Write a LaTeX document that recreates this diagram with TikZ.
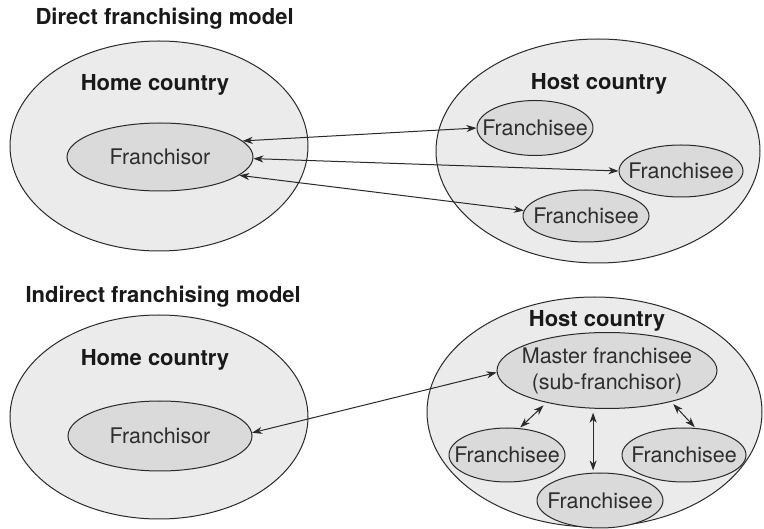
\documentclass[tikz,border=0pt]{standalone}
\usepackage{fontspec}
\setmainfont{TeX Gyre Heros}
\usetikzlibrary{shapes.geometric,arrows.meta}
\definecolor{outerfill}{HTML}{EBEBEB}
\definecolor{innerfill}{HTML}{DADADA}
\definecolor{linecol}{HTML}{2A2A2A}
\definecolor{textcol}{HTML}{2E2E2E}
\begin{document}
\begin{tikzpicture}[x=1pt,y=-1pt,
  country/.style={ellipse,draw=linecol,fill=outerfill,line width=1pt,inner sep=0pt},
  party/.style={ellipse,draw=linecol,fill=innerfill,line width=1pt,
    inner xsep=-25pt,inner ysep=0pt,text=textcol,
    font=\fontsize{21.5}{26}\selectfont,align=center},
  heading/.style={anchor=base west,font=\fontsize{22}{26}\selectfont\bfseries,text=black!90},
  region/.style={anchor=base,font=\fontsize{22}{26}\selectfont\bfseries,text=black!90},
  link/.style={draw=linecol,line width=1pt,
    {Stealth[length=10pt,width=7pt,inset=3pt]}-{Stealth[length=10pt,width=7pt,inset=3pt]}}
]
\useasboundingbox (0,0) rectangle (764,529);

% ---------- Direct franchising model ----------
\node[heading] (t1) at (32,25) {Direct franchising model};

\node[country,minimum width=298pt,minimum height=210pt] (home1) at (159,146) {};
\node[region] (home1lbl) at (155,91) {Home country};
\node[party,minimum width=186pt,minimum height=68pt] (fr1) at (160,157) {Franchisor};

\node[country,minimum width=324pt,minimum height=224pt] (host1) at (598,151) {};
\node[region] (host1lbl) at (599,90) {Host country};
\node[party,minimum width=116pt,minimum height=55pt] (fa) at (535,128) {Franchisee};
\node[party,minimum width=124pt,minimum height=52pt] (fb) at (681,171) {Franchisee};
\node[party,minimum width=126pt,minimum height=52pt] (fc) at (586,216) {Franchisee};

\draw[link] (fr1.11) -- (fa.180);
\draw[link] (fr1.-1) -- (fb.180);
\draw[link] (fr1.-13) -- (fc.175);

% ---------- Indirect franchising model ----------
\node[heading] (t2) at (22,303) {Indirect franchising model};

\node[country,minimum width=298pt,minimum height=204pt] (home2) at (159,417) {};
\node[region] (home2lbl) at (155,366) {Home country};
\node[party,minimum width=184pt,minimum height=70pt] (fr2) at (160,436) {Franchisor};

\node[country,minimum width=335pt,minimum height=230pt] (host2) at (594.5,412) {};
\node[region] (host2lbl) at (597,327) {Host country};
\node[party,minimum width=220pt,minimum height=76pt] (ms) at (607,370.5)
  {Master franchisee\\(sub-franchisor)};
\node[party,minimum width=116pt,minimum height=54pt] (fl) at (507,455) {Franchisee};
\node[party,minimum width=124pt,minimum height=54pt] (fr) at (684,455) {Franchisee};
\node[party,minimum width=126pt,minimum height=55pt] (fm) at (600,500.5) {Franchisee};

\draw[link] (fr2.2) -- (ms.181);
\draw[link,shorten <=4pt,shorten >=1pt] (ms.208) -- (fl.65);
\draw[link,shorten <=4pt,shorten >=2pt] (ms.250) -- (ms.250 |- fm.north);
\draw[link,shorten <=3pt,shorten >=1pt] (ms.334) -- (fr.67);
\end{tikzpicture}
\end{document}
